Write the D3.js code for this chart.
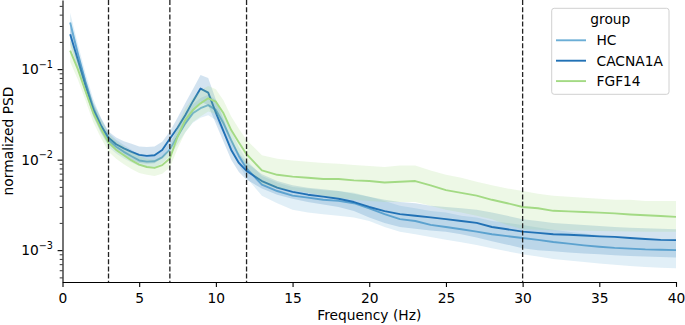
<!DOCTYPE html>
<html>
<head>
<meta charset="utf-8">
<script src="https://cdn.jsdelivr.net/npm/d3@7"></script>
<style>
  html, body { margin: 0; padding: 0; background: #fff; }
  svg { display: block; font-family: "DejaVu Sans", sans-serif; }
</style>
</head>
<body>
<svg id="chart" width="685" height="325"></svg>
<script>
// ---------------- data ----------------
const freqs = [0.5,1,1.5,2,2.5,3,3.5,4,4.5,5,5.5,6,6.5,7,7.5,8,8.5,9,9.5,10,10.5,11,11.5,12,
  13,14,15,16,17,18,19,20,21,22,23,24,25,26,27,28,29,30,31,32,33,34,35,36,37,38,39,40];

const groups = ["HC", "CACNA1A", "FGF14"];
const groupColors = ["#6baed6", "#2171b5", "#a3da84"];

const hcMean = [0.327,0.150,0.072,0.038,0.024,0.0165,0.0139,0.0122,0.0109,0.0098,0.0095,0.0096,0.0106,0.0130,0.0180,0.0250,0.0325,0.0370,0.0400,0.0355,0.0252,0.0164,0.0110,0.0080,
  0.0053,0.0045,0.0040,0.0038,0.0036,0.0035,0.0033,0.0029,0.0025,0.0022,0.0021,0.0019,0.0018,0.0017,0.0016,0.0015,0.00143,0.00136,0.0013,0.00123,0.00118,0.00113,0.00109,0.00106,0.00104,0.00102,0.00101,0.00100];
const hcLo = [0.25,0.118,0.058,0.031,0.020,0.0138,0.0117,0.0103,0.0093,0.0085,0.0083,0.0083,0.0091,0.0110,0.0148,0.0200,0.0255,0.0290,0.0310,0.0275,0.0195,0.0128,0.0087,0.0063,
  0.0040,0.0033,0.0028,0.0026,0.0025,0.0024,0.0023,0.0021,0.0018,0.0016,0.0015,0.0014,0.0013,0.00122,0.00114,0.00105,0.00097,0.0009,0.00085,0.0008,0.00077,0.00074,0.00071,0.00069,0.00067,0.00065,0.00064,0.00063];
const hcHi = [0.42,0.19,0.090,0.047,0.029,0.0198,0.0166,0.0145,0.0129,0.0115,0.0112,0.0113,0.0124,0.0154,0.0215,0.031,0.041,0.048,0.052,0.046,0.033,0.021,0.0138,0.0099,
  0.0066,0.0056,0.0050,0.0048,0.0046,0.0045,0.0043,0.0039,0.0035,0.0031,0.0029,0.0027,0.0026,0.0024,0.0023,0.0021,0.0020,0.0019,0.00178,0.00168,0.0016,0.00153,0.00146,0.0014,0.00136,0.00133,0.00131,0.0013];

const caMean = [0.243,0.126,0.066,0.036,0.024,0.0175,0.0148,0.0133,0.0122,0.0113,0.0110,0.0112,0.0128,0.0170,0.0225,0.031,0.044,0.061,0.055,0.033,0.0205,0.0128,0.0092,0.0075,
  0.0058,0.0049,0.0044,0.0041,0.0039,0.0037,0.0034,0.0030,0.0027,0.0025,0.0024,0.0023,0.0022,0.0021,0.0020,0.0018,0.0017,0.0016,0.00155,0.0015,0.00148,0.00145,0.00142,0.0014,0.00136,0.00133,0.0013,0.00129];
const caLo = [0.19,0.10,0.054,0.030,0.020,0.0148,0.0125,0.0111,0.0100,0.0092,0.0090,0.0091,0.0104,0.0140,0.0180,0.024,0.033,0.044,0.040,0.025,0.0158,0.0100,0.0073,0.0060,
  0.0048,0.0041,0.0037,0.0034,0.0032,0.0030,0.0027,0.0023,0.0020,0.0018,0.00172,0.00165,0.0016,0.0015,0.00138,0.00125,0.00115,0.00105,0.00100,0.00097,0.00094,0.00092,0.0009,0.00088,0.00086,0.00085,0.00084,0.00083];
const caHi = [0.30,0.155,0.080,0.043,0.029,0.0205,0.0176,0.0160,0.0150,0.0140,0.0138,0.0140,0.0158,0.0205,0.029,0.042,0.060,0.086,0.080,0.046,0.028,0.0165,0.0118,0.0093,
  0.0069,0.0058,0.0052,0.0049,0.0047,0.0045,0.0042,0.0039,0.0036,0.0034,0.0033,0.0031,0.0030,0.0029,0.0028,0.0026,0.0024,0.0022,0.0021,0.0020,0.00195,0.0019,0.00185,0.0018,0.00177,0.00174,0.00172,0.0017];

const fgMean = [0.160,0.100,0.057,0.033,0.022,0.0155,0.0128,0.0112,0.0098,0.0088,0.0083,0.0081,0.0087,0.0103,0.0179,0.0273,0.0353,0.0419,0.0476,0.0437,0.0325,0.0212,0.0155,0.0115,
  0.0076,0.0068,0.0065,0.0063,0.0061,0.0061,0.0059,0.0058,0.0056,0.0057,0.0058,0.0052,0.0046,0.0043,0.0040,0.0036,0.0033,0.0030,0.0029,0.00272,0.00268,0.00264,0.0026,0.00255,0.00248,0.00243,0.00238,0.00233];
const fgLo = [0.12,0.077,0.045,0.026,0.0175,0.0122,0.0102,0.0089,0.0079,0.0071,0.0068,0.0066,0.0070,0.0082,0.0132,0.020,0.026,0.030,0.034,0.032,0.024,0.0157,0.0113,0.0083,
  0.0054,0.0048,0.0046,0.0043,0.0040,0.0038,0.0036,0.0035,0.0034,0.0034,0.0034,0.0031,0.0028,0.0026,0.0024,0.0022,0.0019,0.0017,0.00168,0.00166,0.00165,0.00164,0.00163,0.00162,0.00161,0.0016,0.0016,0.0016];
const fgHi = [0.21,0.13,0.072,0.042,0.028,0.0195,0.0160,0.0140,0.0122,0.0110,0.0102,0.0100,0.0108,0.0130,0.024,0.037,0.048,0.058,0.065,0.060,0.045,0.030,0.022,0.0165,
  0.0112,0.0102,0.0098,0.0095,0.0092,0.0090,0.0087,0.0085,0.0083,0.0086,0.0086,0.0076,0.0068,0.0063,0.0057,0.0052,0.0048,0.0045,0.0042,0.0040,0.0039,0.0038,0.0037,0.0036,0.0036,0.0035,0.0035,0.0035];

const bandEdges = [3, 7, 12, 30];
const xTicks = [0, 5, 10, 15, 20, 25, 30, 35, 40];
const yMajorExps = [-3, -2, -1];
const xLabel = "Frequency (Hz)";
const yLabel = "normalized PSD";
const legendTitle = "group";

// ---------------- layout ----------------
const svg = d3.select("#chart");
const plot = { left: 62.5, right: 676, top: 0, bottom: 282 };
const fs = 13.8;

const x = d3.scaleLinear().domain([0, 40]).range([plot.left, plot.right]);
const y = d3.scaleLog().domain([Math.pow(10, -3.352), Math.pow(10, -0.236)]).range([plot.bottom, plot.top]);

const series = [
  { name: groups[0], color: groupColors[0], mean: hcMean, lo: hcLo, hi: hcHi },
  { name: groups[1], color: groupColors[1], mean: caMean, lo: caLo, hi: caHi },
  { name: groups[2], color: groupColors[2], mean: fgMean, lo: fgLo, hi: fgHi }
];

const area = d3.area()
  .x(d => x(d.f)).y0(d => y(d.lo)).y1(d => y(d.hi));
const line = d3.line().x(d => x(d.f)).y(d => y(d.m));

const gData = svg.append("g");
series.forEach(s => {
  const pts = freqs.map((f, i) => ({ f, m: s.mean[i], lo: s.lo[i], hi: s.hi[i] }));
  gData.append("path").datum(pts).attr("d", area)
    .attr("fill", s.color).attr("fill-opacity", 0.2).attr("stroke", "none");
  gData.append("path").datum(pts).attr("d", line)
    .attr("fill", "none").attr("stroke", s.color).attr("stroke-width", 1.9)
    .attr("stroke-linejoin", "round").attr("stroke-linecap", "butt");
});

// dashed band edges
svg.append("g").selectAll("line").data(bandEdges).join("line")
  .attr("x1", d => x(d)).attr("x2", d => x(d))
  .attr("y1", plot.top).attr("y2", plot.bottom)
  .attr("stroke", "#222").attr("stroke-width", 1.3)
  .attr("stroke-dasharray", "5,2.2");

// x axis
const xAxis = svg.append("g").attr("transform", `translate(0,${plot.bottom})`)
  .call(d3.axisBottom(x).tickValues(xTicks).tickSize(4.9).tickSizeOuter(0).tickPadding(6).tickFormat(d3.format("d")));
xAxis.selectAll("text").attr("font-size", fs).attr("font-family", "DejaVu Sans").attr("fill", "#000");
xAxis.select(".domain").attr("stroke", "#000").attr("stroke-width", 1.1);
xAxis.selectAll(".tick line").attr("stroke", "#000").attr("stroke-width", 1.1);

// y axis major
const yMajors = yMajorExps.map(e => Math.pow(10, e));
const yAxis = svg.append("g").attr("transform", `translate(${plot.left},0)`)
  .call(d3.axisLeft(y).tickValues(yMajors).tickSize(4.9).tickSizeOuter(0).tickFormat(() => ""));
yAxis.select(".domain").attr("stroke", "#000").attr("stroke-width", 1.1);
yAxis.selectAll(".tick line").attr("stroke", "#000").attr("stroke-width", 1.1);

// y minor ticks
const [dmin, dmax] = y.domain();
const yMinors = [];
for (let e = -4; e <= 0; e++) {
  for (let k = 2; k <= 9; k++) {
    const v = k * Math.pow(10, e);
    if (v >= dmin && v <= dmax) yMinors.push(v);
  }
}
const yMinorAxis = svg.append("g").attr("transform", `translate(${plot.left},0)`)
  .call(d3.axisLeft(y).tickValues(yMinors).tickSize(2.8).tickSizeOuter(0).tickFormat(() => ""));
yMinorAxis.select(".domain").remove();
yMinorAxis.selectAll(".tick line").attr("stroke", "#000").attr("stroke-width", 0.8);

// y tick labels with superscript
const yLabels = svg.append("g");
yMajorExps.forEach(e => {
  const t = yLabels.append("text")
    .attr("x", plot.left - 9.5).attr("y", y(Math.pow(10, e)) + 5)
    .attr("text-anchor", "end").attr("font-size", fs).attr("fill", "#000");
  t.append("tspan").text("10");
  t.append("tspan").attr("font-size", fs * 0.7).attr("dy", -6.2).text("\u2212" + Math.abs(e));
});

// axis labels
svg.append("text").attr("x", (plot.left + plot.right) / 2).attr("y", 319.5)
  .attr("text-anchor", "middle").attr("font-size", fs).attr("fill", "#000").text(xLabel);
svg.append("text").attr("transform", `translate(12.5,${(plot.top + plot.bottom) / 2}) rotate(-90)`)
  .attr("text-anchor", "middle").attr("font-size", fs).attr("fill", "#000").text(yLabel);

// legend
const lg = svg.append("g");
lg.append("rect").attr("x", 551.7).attr("y", 8.3).attr("width", 117.3).attr("height", 86)
  .attr("rx", 2.5).attr("fill", "#fff").attr("fill-opacity", 0.8)
  .attr("stroke", "#d0d0d0").attr("stroke-width", 1);
lg.append("text").attr("x", 610.3).attr("y", 23.5).attr("text-anchor", "middle")
  .attr("font-size", fs).attr("fill", "#000").text(legendTitle);
series.forEach((s, i) => {
  const cy = 40.3 + i * 20.4;
  lg.append("line").attr("x1", 556).attr("x2", 586).attr("y1", cy).attr("y2", cy)
    .attr("stroke", s.color).attr("stroke-width", 1.9);
  lg.append("text").attr("x", 596.5).attr("y", cy + 5).attr("font-size", fs).attr("fill", "#000").text(s.name);
});
</script>
</body>
</html>
